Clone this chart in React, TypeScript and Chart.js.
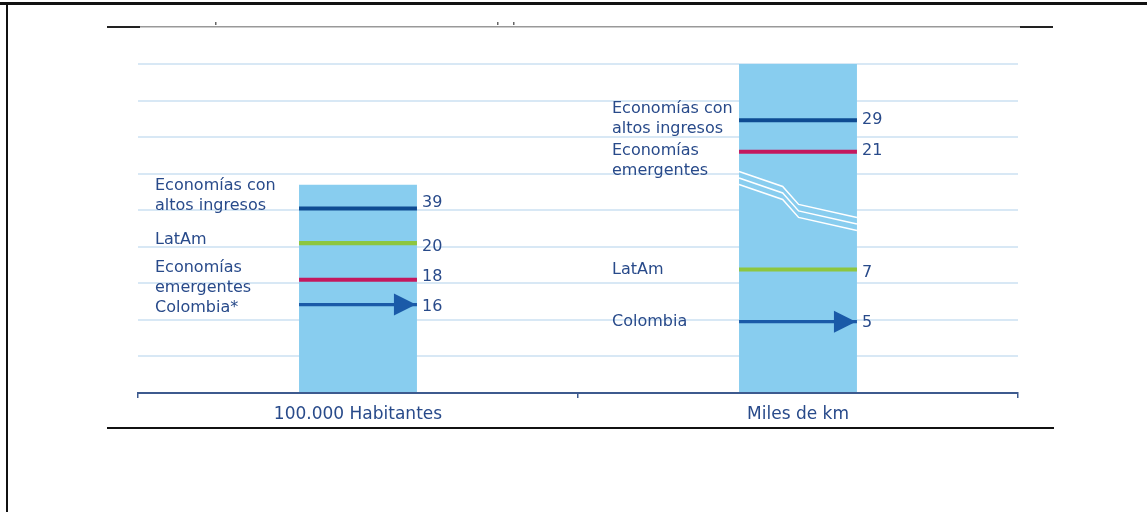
import React, { useEffect, useRef } from "react";
import { Chart, registerables } from "chart.js";

Chart.register(...registerables);

// ---------- data ----------
const categories = ["100.000 Habitantes", "Miles de km"];
const barLevels = [5.7, 9];

const altosValues = [39, 29];
const altosLevels = [5.05, 7.46];
const latamValues = [20, 7];
const latamLevels = [4.1, 3.38];
const emergValues = [18, 21];
const emergLevels = [3.1, 6.6];
const colombiaValues = [16, 5];
const colombiaLevels = [2.42, 1.95];

const altosLabels = [["Economías con", "altos ingresos"], ["Economías con", "altos ingresos"]];
const latamLabels = [["LatAm"], ["LatAm"]];
const emergLabels = [["Economías", "emergentes"], ["Economías", "emergentes"]];
const colombiaLabels = [["Colombia*"], ["Colombia"]];

const breakLevels = [6.06, 5.65, 5.16, 4.8];

// ---------- styles ----------
const TEXT = "#284a8a";
const FONT = "'DejaVu Sans', 'Open Sans', sans-serif";
const labelX = [155, 612];
const labelDy = [[-23, -3, -12, 3], [-11, 0, -1, 0]];
const valueDy = [[-6, 4, -3, 2], [0, 3, -1, 1]];
const lineThick = [0.055, 0.055, 0.055, 0.045];

const mk = (levels: number[], half: number) => levels.map((v) => [v - half, v + half]);

export default function App() {
  const ref = useRef<HTMLCanvasElement | null>(null);

  useEffect(() => {
    if (!ref.current) return;
    const seriesValues = [altosValues, latamValues, emergValues, colombiaValues];
    const seriesLabels = [altosLabels, latamLabels, emergLabels, colombiaLabels];

    const decor = {
      id: "decor",
      afterDraw(chart: any) {
        const ctx = chart.ctx as CanvasRenderingContext2D;
        const y = chart.scales.y;
        ctx.save();
        // frame
        ctx.fillStyle = "#111";
        ctx.fillRect(0, 2, 1147, 3);
        ctx.fillRect(6, 2, 2, 510);
        // top line
        ctx.fillStyle = "#999";
        ctx.fillRect(140, 26, 880, 1.5);
        ctx.fillStyle = "#222";
        ctx.fillRect(107, 26, 33, 2);
        ctx.fillRect(1020, 26, 33, 2);
        ctx.fillStyle = "#666";
        ctx.fillRect(215, 22, 1.5, 3);
        ctx.fillRect(497, 22, 1.5, 3);
        ctx.fillRect(513, 22, 1.5, 3);
        // bottom line
        ctx.fillStyle = "#111";
        ctx.fillRect(107, 427, 947, 2);

        // break lines on right bar
        const bars = chart.getDatasetMeta(0).data;
        const bar = bars[1];
        const bl = bar.x - bar.width / 2;
        const bw = bar.width;
        const fr = [0, 0.37, 0.505, 1];
        ctx.strokeStyle = "#ffffff";
        ctx.lineWidth = 1.5;
        for (let k = 0; k < 3; k++) {
          ctx.beginPath();
          fr.forEach((f, i) => {
            const px = bl + f * bw;
            const py = y.getPixelForValue(breakLevels[i]) + k * 6.5;
            if (i === 0) ctx.moveTo(px, py);
            else ctx.lineTo(px, py);
          });
          ctx.stroke();
        }

        // arrow heads for Colombia
        const cm = chart.getDatasetMeta(4);
        ctx.fillStyle = "#1a5aa8";
        cm.data.forEach((el: any) => {
          const tip = el.x + el.width / 2 - 1;
          const cy = (el.y + el.base) / 2;
          ctx.beginPath();
          ctx.moveTo(tip, cy);
          ctx.lineTo(tip - 22, cy - 11);
          ctx.lineTo(tip - 22, cy + 11);
          ctx.closePath();
          ctx.fill();
        });

        // labels and values
        ctx.font = `16px ${FONT}`;
        ctx.fillStyle = TEXT;
        ctx.textBaseline = "middle";
        for (let s = 0; s < 4; s++) {
          const meta = chart.getDatasetMeta(s + 1);
          meta.data.forEach((el: any, c: number) => {
            const cy = (el.y + el.base) / 2;
            ctx.textAlign = "left";
            const lines = seriesLabels[s][c];
            lines.forEach((t: string, i: number) => {
              ctx.fillText(t, labelX[c], cy + labelDy[c][s] + i * 20);
            });
            const b = bars[c];
            ctx.fillText(String(seriesValues[s][c]), b.x + b.width / 2 + 5, cy + valueDy[c][s]);
          });
        }
        ctx.restore();
      },
    };

    const common = { barPercentage: 0.268, categoryPercentage: 1, grouped: false, borderWidth: 0 };

    const chart = new Chart(ref.current, {
      type: "bar",
      data: {
        labels: categories,
        datasets: [
          { ...common, label: "Barra", data: barLevels, backgroundColor: "#88cdef", order: 5 },
          { ...common, label: "Economías con altos ingresos", data: mk(altosLevels, lineThick[0]) as any, backgroundColor: "#0e4b92", order: 1 },
          { ...common, label: "LatAm", data: mk(latamLevels, lineThick[1]) as any, backgroundColor: "#8dc63f", order: 1 },
          { ...common, label: "Economías emergentes", data: mk(emergLevels, lineThick[2]) as any, backgroundColor: "#c4185e", order: 1 },
          { ...common, label: "Colombia", data: mk(colombiaLevels, lineThick[3]) as any, backgroundColor: "#1a5aa8", order: 1 },
        ],
      },
      options: {
        animation: false,
        responsive: true,
        maintainAspectRatio: false,
        layout: { padding: { left: 138, right: 129, top: 64, bottom: 0 } },
        plugins: { legend: { display: false }, tooltip: { enabled: false } },
        scales: {
          x: {
            offset: true,
            afterFit: (s: any) => { s.height = 119; },
            grid: { display: true, offset: true, drawOnChartArea: false, drawTicks: true, tickLength: 5, color: "#3d5a8e", lineWidth: 1.5 },
            border: { display: true, color: "#3d5a8e", width: 2 },
            ticks: { color: TEXT, font: { family: FONT, size: 17 }, padding: 6 },
          },
          y: {
            min: 0,
            max: 9,
            afterFit: (s: any) => { s.width = 0; },
            ticks: { display: false, stepSize: 1 },
            border: { display: false },
            grid: { color: "#d8e8f5", lineWidth: 2, drawTicks: false },
          },
        },
      },
      plugins: [decor],
    });
    return () => chart.destroy();
  }, []);

  return (
    <div style={{ position: "fixed", left: 0, top: 0, width: 1147, height: 512, background: "#fff" }}>
      <canvas ref={ref} />
    </div>
  );
}
